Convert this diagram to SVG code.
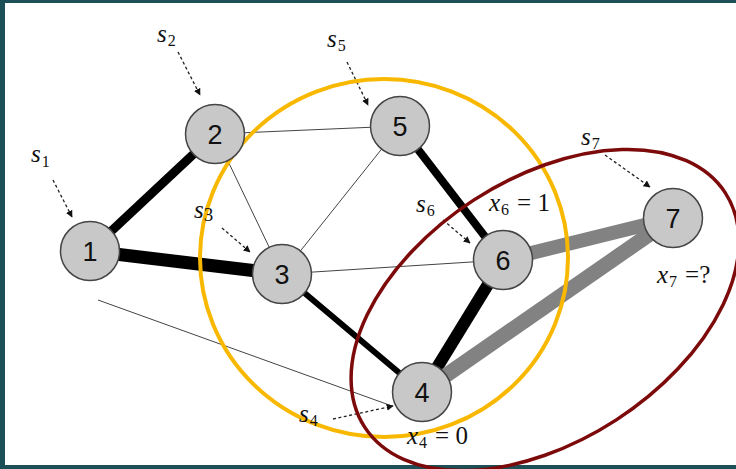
<svg xmlns="http://www.w3.org/2000/svg" width="736" height="469" viewBox="0 0 736 469">
<defs>
<marker id="ah" viewBox="0 0 10 10" refX="9" refY="5" markerWidth="7" markerHeight="7" orient="auto" markerUnits="userSpaceOnUse">
<path d="M0,0 L10,5 L0,10 z" fill="#111"/>
</marker>
<style>
.node circle{fill:#c8c8c8;stroke:#444;stroke-width:1.5}
.node text{font-family:"Liberation Sans",Arial,sans-serif;font-size:27px;fill:#111;text-anchor:middle}
.thin{stroke:#444;stroke-width:1;fill:none}
.blk{stroke:#000;fill:none}
.gry{stroke:#828282;fill:none}
.dash{stroke:#222;stroke-width:1.3;stroke-dasharray:3 2.5;fill:none;marker-end:url(#ah)}
.m{font-family:"Liberation Serif","DejaVu Serif",serif;font-style:italic;font-size:25px;fill:#111}
.sub{font-family:"Liberation Serif","DejaVu Serif",serif;font-size:16px;fill:#111;font-style:normal}
.eq{font-family:"Liberation Serif","DejaVu Serif",serif;font-size:25px;fill:#111;font-style:normal}
</style>
</defs>
<rect width="736" height="469" fill="#1d4f56"/>
<rect x="5" y="3" width="731" height="462" fill="#fff"/>

<g id="connectors">
<line class="thin" x1="215" y1="134" x2="400" y2="126"/>
<line class="thin" x1="215" y1="134" x2="282" y2="274"/>
<line class="thin" x1="400" y1="126" x2="282" y2="274"/>
<line class="thin" x1="282" y1="274" x2="503" y2="260" stroke="#777"/>
<line class="blk" x1="90" y1="251" x2="215" y2="134" stroke-width="9"/>
<line class="blk" x1="90" y1="251" x2="282" y2="274" stroke-width="13"/>
<line class="blk" x1="282" y1="274" x2="422" y2="392" stroke-width="6"/>
<line class="blk" x1="400" y1="126" x2="503" y2="260" stroke-width="8"/>
<line class="blk" x1="503" y1="260" x2="422" y2="392" stroke-width="12"/>
<line class="gry" x1="503" y1="260" x2="673" y2="218" stroke-width="14"/>
<line class="gry" x1="422" y1="392" x2="673" y2="218" stroke-width="15"/>
<line class="thin" x1="98" y1="300" x2="392" y2="406"/>
<path class="dash" d="M53,180 L72,217"/>
<path class="dash" d="M178,52 L200,95"/>
<path class="dash" d="M347,62 L368,105"/>
<path class="dash" d="M222,228 L250,252"/>
<path class="dash" d="M443,220 L470,243"/>
<path class="dash" d="M605,155 L650,187"/>
<path class="dash" d="M333,419 L393,406"/>
</g>

<g id="regions">
<ellipse cx="384" cy="258" rx="184" ry="179" fill="none" stroke="#f9b800" stroke-width="4"/>
<ellipse cx="545" cy="310" rx="215" ry="131" transform="rotate(-33 545 310)" fill="none" stroke="#7d0a0a" stroke-width="3.5"/>
</g>

<g id="node1" class="node"><circle cx="90" cy="251" r="29.5"/><text x="90" y="261">1</text></g>
<g id="node2" class="node"><circle cx="215" cy="134" r="29.5"/><text x="215" y="144">2</text></g>
<g id="node3" class="node"><circle cx="282" cy="274" r="29.5"/><text x="282" y="284">3</text></g>
<g id="node4" class="node"><circle cx="422" cy="392" r="29.5"/><text x="422" y="402">4</text></g>
<g id="node5" class="node"><circle cx="400" cy="126" r="29.5"/><text x="400" y="136">5</text></g>
<g id="node6" class="node"><circle cx="503" cy="260" r="29.5"/><text x="503" y="270">6</text></g>
<g id="node7" class="node"><circle cx="673" cy="218" r="29.5"/><text x="673" y="228">7</text></g>

<g id="labels">
<text x="31" y="162" class="m">s<tspan class="sub" dx="1" dy="5">1</tspan></text>
<text x="157" y="42" class="m">s<tspan class="sub" dx="1" dy="4">2</tspan></text>
<text x="327" y="47" class="m">s<tspan class="sub" dx="1" dy="4">5</tspan></text>
<text x="194" y="218" class="m">s<tspan class="eq" dx="0" dy="3" style="font-size:19px">3</tspan></text>
<text x="416" y="212" class="m">s<tspan class="sub" dx="1" dy="4">6</tspan></text>
<text x="581" y="145" class="m">s<tspan class="sub" dx="1" dy="4">7</tspan></text>
<text x="299" y="422" class="m">s<tspan class="sub" dx="1" dy="4">4</tspan></text>
<text x="489" y="211" class="m">x<tspan class="sub" dx="1" dy="4">6</tspan><tspan class="eq" dx="8" dy="-4">= 1</tspan></text>
<text x="657" y="283" class="m">x<tspan class="sub" dx="1" dy="4">7</tspan><tspan class="eq" dx="8" dy="-4">=?</tspan></text>
<text x="407" y="444" class="m">x<tspan class="sub" dx="1" dy="4">4</tspan><tspan class="eq" dx="8" dy="-4">= 0</tspan></text>
</g>
</svg>
